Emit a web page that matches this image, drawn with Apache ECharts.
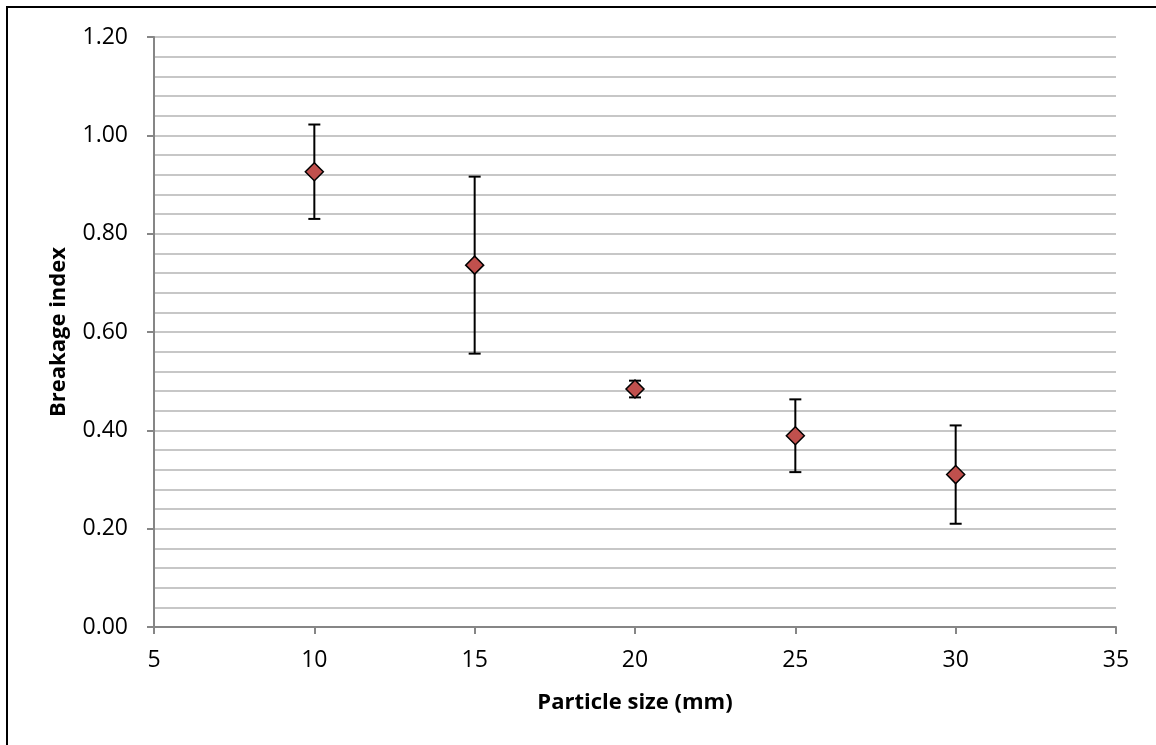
<!DOCTYPE html>
<html>
<head>
<meta charset="utf-8">
<script src="https://cdn.jsdelivr.net/npm/echarts@6/dist/echarts.min.js"></script>
<style>
  html, body { margin: 0; padding: 0; background: #fff; }
  #chart { width: 1156px; height: 745px; }
</style>
</head>
<body>
<div id="chart"></div>
<script>
// particle size (mm) vs breakage index, with +/- error
const particleSize = [10, 15, 20, 25, 30];
const breakageIndex = [0.926, 0.736, 0.484, 0.389, 0.310];
const breakageError = [0.096, 0.180, 0.017, 0.074, 0.100];
const xTicks = [5, 10, 15, 20, 25, 30, 35];
const yTicks = [0, 0.2, 0.4, 0.6, 0.8, 1.0, 1.2];

const font = '"Open Sans", "Liberation Sans", sans-serif';

const points = particleSize.map((x, i) => [x, breakageIndex[i]]);
const errorBars = particleSize.map((x, i) => [x, breakageIndex[i] - breakageError[i], breakageIndex[i] + breakageError[i]]);

const chart = echarts.init(document.getElementById('chart'));
chart.setOption({
  backgroundColor: '#fff',
  animation: false,
  graphic: [{
    type: 'rect',
    shape: { x: 7, y: 7, width: 1400, height: 1000 },
    style: { fill: null, stroke: '#000', lineWidth: 2 },
    silent: true
  }],
  grid: { left: 154, right: 40, top: 37, bottom: 118 },
  xAxis: {
    type: 'value',
    min: xTicks[0],
    max: xTicks[xTicks.length - 1],
    interval: 5,
    name: 'Particle size (mm)',
    nameLocation: 'middle',
    nameGap: 65,
    nameTextStyle: { fontFamily: font, fontSize: 22, fontWeight: 'bold', color: '#000' },
    axisLine: { lineStyle: { color: '#868686', width: 2 } },
    axisTick: { show: true, length: 7, lineStyle: { color: '#868686', width: 2 } },
    axisLabel: { margin: 22, fontFamily: font, fontSize: 23, color: '#000' },
    splitLine: { show: false }
  },
  yAxis: {
    type: 'value',
    min: yTicks[0],
    max: yTicks[yTicks.length - 1],
    interval: 0.2,
    name: 'Breakage index',
    nameLocation: 'middle',
    nameGap: 84,
    nameTextStyle: { fontFamily: font, fontSize: 22, fontWeight: 'bold', color: '#000' },
    axisLine: { show: true, lineStyle: { color: '#868686', width: 2 } },
    axisTick: { show: true, length: 7, lineStyle: { color: '#868686', width: 2 } },
    axisLabel: {
      margin: 26, fontFamily: font, fontSize: 23, color: '#000',
      formatter: v => v.toFixed(2)
    },
    splitLine: { show: true, lineStyle: { color: '#b5b5b5', width: 1.5 } },
    minorTick: { show: false, splitNumber: 5 },
    minorSplitLine: { show: true, lineStyle: { color: '#b5b5b5', width: 1.5 } }
  },
  series: [
    {
      type: 'custom',
      z: 2,
      data: errorBars,
      renderItem: function (params, api) {
        const x = api.value(0);
        const lo = api.coord([x, api.value(1)]);
        const hi = api.coord([x, api.value(2)]);
        const cap = 6;
        const style = { stroke: '#000', lineWidth: 2 };
        return {
          type: 'group',
          children: [
            { type: 'line', shape: { x1: lo[0], y1: lo[1], x2: hi[0], y2: hi[1] }, style },
            { type: 'line', shape: { x1: lo[0] - cap, y1: lo[1], x2: lo[0] + cap, y2: lo[1] }, style },
            { type: 'line', shape: { x1: hi[0] - cap, y1: hi[1], x2: hi[0] + cap, y2: hi[1] }, style }
          ]
        };
      }
    },
    {
      type: 'scatter',
      z: 3,
      data: points,
      symbol: 'diamond',
      symbolSize: 18,
      itemStyle: { color: '#c0504d', borderColor: '#000', borderWidth: 1.5, opacity: 1 }
    }
  ]
});
</script>
</body>
</html>
